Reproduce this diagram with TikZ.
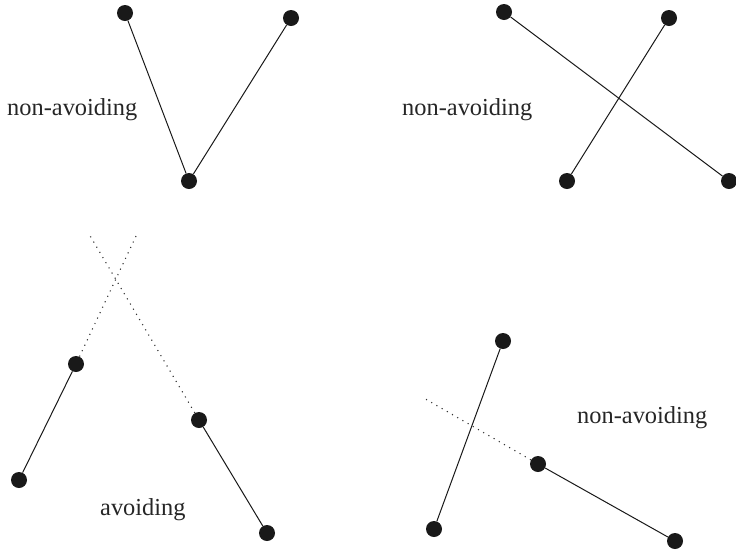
\documentclass[tikz,border=0pt]{standalone}
\usepackage{fontspec}
\setmainfont{Liberation Serif}
\begin{document}
\begin{tikzpicture}[x=1pt,y=-1pt,
  dot/.style={circle,fill=black!90,draw=none,minimum size=16pt,inner sep=0pt},
  seg/.style={line width=1pt,black!90},
  ext/.style={line width=1.1pt,black!80,dash pattern=on 1.1pt off 4.9pt},
  lbl/.style={anchor=base west,inner sep=0pt,font=\fontsize{24.4}{28}\selectfont,text=black!85}]
\useasboundingbox (0,0) rectangle (736,550);
% top left
\node[dot] (a1) at (125,13) {};
\node[dot] (a2) at (291,18) {};
\node[dot] (a3) at (189,181) {};
\draw[seg] (a1) -- (a3);
\draw[seg] (a2) -- (a3);
\node[lbl] (t1) at (7,115) {non-avoiding};
% top right
\node[dot] (b1) at (504,12) {};
\node[dot] (b2) at (669,18) {};
\node[dot] (b3) at (567,181) {};
\node[dot] (b4) at (729,181) {};
\draw[seg] (b1) -- (b4);
\draw[seg] (b2) -- (b3);
\node[lbl] (t2) at (402,115) {non-avoiding};
% bottom left
\node[dot] (c1) at (76,364) {};
\node[dot] (c2) at (19,480) {};
\node[dot] (c3) at (199,420) {};
\node[dot] (c4) at (267,533) {};
\coordinate (e1) at (137,234);
\coordinate (e2) at (89,234);
\draw[seg] (c1) -- (c2);
\draw[seg] (c3) -- (c4);
\draw[ext] (c1) -- (e1);
\draw[ext] (c3) -- (e2);
\node[lbl] (t3) at (100,515) {avoiding};
% bottom right
\node[dot] (d1) at (503,341) {};
\node[dot] (d2) at (434,529) {};
\node[dot] (d3) at (538,464) {};
\node[dot] (d4) at (675,541) {};
\coordinate (e3) at (422,397);
\draw[seg] (d1) -- (d2);
\draw[seg] (d3) -- (d4);
\draw[ext] (d3) -- (e3);
\node[lbl] (t4) at (577,423) {non-avoiding};
\end{tikzpicture}
\end{document}
